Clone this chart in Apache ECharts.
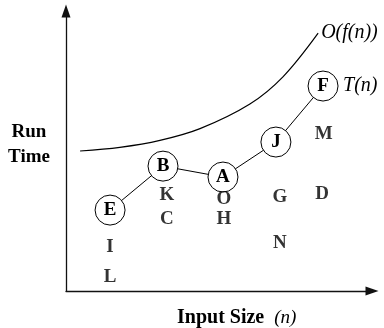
<!DOCTYPE html>
<html><head><meta charset="utf-8">
<script src="https://cdn.jsdelivr.net/npm/echarts@6/dist/echarts.min.js"></script>
<style>html,body{margin:0;padding:0;background:#fff}#c{width:384px;height:328px}</style>
</head><body><div id="c"></div>
<script>
// circled nodes of T(n)
const nodeNames = ['E', 'B', 'A', 'J', 'F'];
const nodeX = [1.44, 3.17, 5.13, 6.86, 8.40];
const nodeY = [2.89, 4.46, 4.07, 5.32, 7.32];
// loose letters
const letterNames = ['K', 'C', 'O', 'H', 'G', 'N', 'M', 'D', 'I', 'L'];
const letterX = [3.30, 3.30, 5.16, 5.16, 6.99, 6.99, 8.42, 8.37, 1.44, 1.44];
const letterY = [3.43, 2.57, 3.29, 2.57, 3.36, 1.71, 5.61, 3.46, 1.57, 0.50];
// upper bound curve O(f(n))
const boundX = [0.46, 1.76, 3.07, 4.38, 6.01, 7.09, 8.24];
const boundY = [5.00, 5.13, 5.38, 5.80, 6.68, 7.65, 9.21];
const boundLabel = 'O(f(n))';
const tLabel = 'T(n)';
const yTitle = ['Run', 'Time'];
const xTitle = 'Input Size';
const xTitleVar = '(n)';

const serif = "'Liberation Serif', 'Times New Roman', serif";
const chart = echarts.init(document.getElementById('c'), null, {renderer: 'canvas'});

const axisCommon = {
  type: 'value', min: 0, max: 10,
  axisLine: {show: true, onZero: false, symbol: ['none', 'triangle'], symbolSize: [9, 13],
    lineStyle: {color: '#111', width: 1.3}},
  axisTick: {show: false}, axisLabel: {show: false}, splitLine: {show: false}
};

chart.setOption({
  animation: false,
  backgroundColor: '#fff',
  grid: {left: 66, right: 12, top: 11, bottom: 37},
  xAxis: axisCommon,
  yAxis: axisCommon,
  graphic: [
    {type: 'text', x: 29, y: 132, style: {text: yTitle.join('\n'), font: 'bold 19px ' + serif,
      fill: '#000', textAlign: 'center', textVerticalAlign: 'top', lineHeight: 25, y: -12}},
    {type: 'text', x: 177, y: 318, style: {text: '{b|' + xTitle + '}   {i|' + xTitleVar + '}',
      rich: {b: {font: 'bold 20px ' + serif, fill: '#000'}, i: {font: 'italic 19px ' + serif, fill: '#000'}},
      textAlign: 'left', textVerticalAlign: 'middle'}}
  ],
  series: [
    {
      type: 'line', smooth: 0.35, symbol: 'none',
      data: boundX.map((x, i) => [x, boundY[i]]),
      lineStyle: {color: '#000', width: 1.2},
      endLabel: {show: true, formatter: boundLabel, distance: 3,
        fontFamily: serif, fontStyle: 'italic', fontSize: 20, color: '#000'},
      z: 2
    },
    {
      type: 'line', symbol: 'circle', symbolSize: 30,
      data: nodeX.map((x, i) => ({value: [x, nodeY[i]], name: nodeNames[i]})),
      lineStyle: {color: '#000', width: 1},
      itemStyle: {color: '#fff', borderColor: '#000', borderWidth: 1},
      label: {show: true, position: 'inside', formatter: p => p.name,
        fontFamily: serif, fontWeight: 'bold', fontSize: 19, color: '#000'},
      endLabel: {show: true, formatter: tLabel, distance: 20,
        fontFamily: serif, fontStyle: 'italic', fontSize: 20, color: '#000'},
      z: 3
    },
    {
      type: 'scatter', symbolSize: 0,
      data: letterX.map((x, i) => ({value: [x, letterY[i]], name: letterNames[i]})),
      label: {show: true, position: 'inside', formatter: p => p.name,
        fontFamily: serif, fontWeight: 'bold', fontSize: 19, color: '#000'},
      z: 4
    }
  ]
});
</script></body></html>
